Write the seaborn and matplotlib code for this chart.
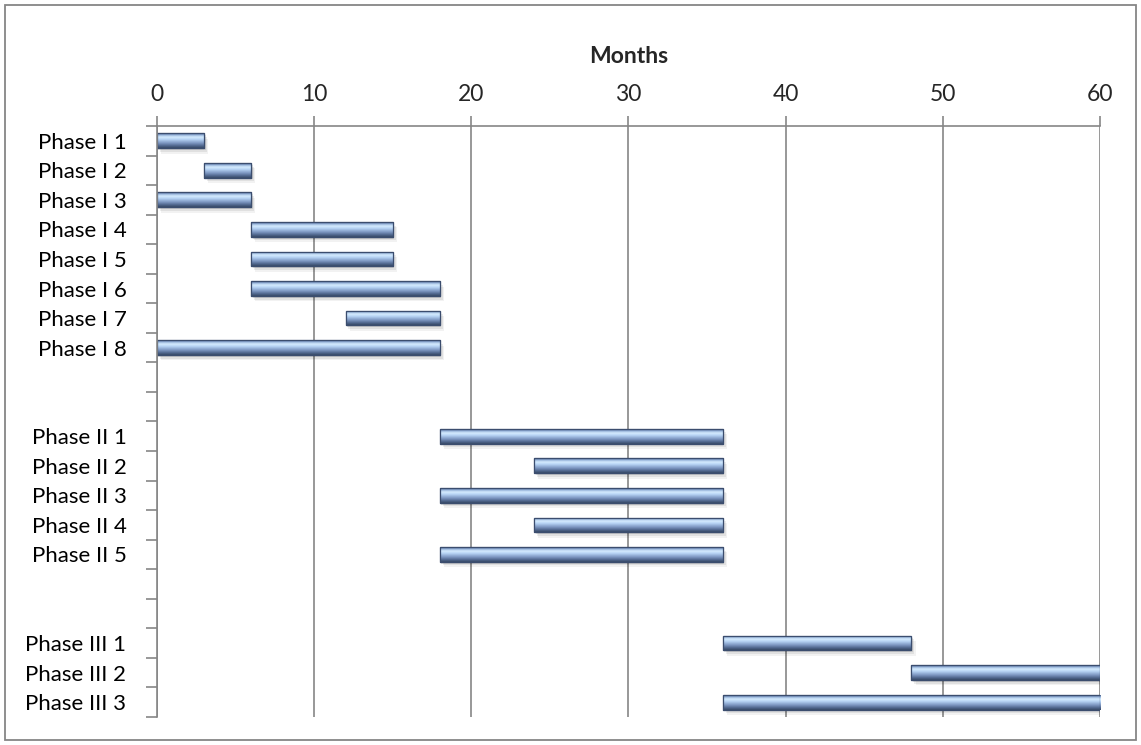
import numpy as np
import pandas as pd
import seaborn as sns
import matplotlib
matplotlib.use("Agg")
import matplotlib.pyplot as plt
from matplotlib.colors import LinearSegmentedColormap
from matplotlib.patches import Rectangle
import matplotlib.transforms as mtransforms

tasks = ["Phase I 1", "Phase I 2", "Phase I 3", "Phase I 4", "Phase I 5", "Phase I 6",
         "Phase I 7", "Phase I 8", " ", "  ",
         "Phase II 1", "Phase II 2", "Phase II 3", "Phase II 4", "Phase II 5", "   ", "    ",
         "Phase III 1", "Phase III 2", "Phase III 3"]
start = [0, 3, 0, 6, 6, 6, 12, 0, np.nan, np.nan,
         18, 24, 18, 24, 18, np.nan, np.nan,
         36, 48, 36]
end = [3, 6, 6, 15, 15, 18, 18, 18, np.nan, np.nan,
       36, 36, 36, 36, 36, np.nan, np.nan,
       48, 60, 60]
xticks = [0, 10, 20, 30, 40, 50, 60]
xlabel = "Months"

df = pd.DataFrame({"task": tasks, "start": start, "end": end})
df["duration"] = df["end"] - df["start"]
bars = df.dropna().reset_index(drop=True)

sns.set_theme(style="white")
plt.rcParams["font.family"] = ["Lato", "DejaVu Sans"]

fig = plt.figure(figsize=(11.41, 7.45), dpi=100)
ax = fig.add_axes([0.1376, 0.0376, 0.964 - 0.1376, 0.8309 - 0.0376])

sns.barplot(data=bars, x="duration", y="task", order=tasks, left=bars["start"].values,
            width=0.5, color="#5b75a0", ax=ax, errorbar=None, orient="y")

cmap = LinearSegmentedColormap.from_list(
    "cyl", [(0.0, "#41567c"), (0.1, "#8aa8d3"), (0.26, "#d8eeff"), (0.42, "#b6d3f5"),
            (0.68, "#7a94be"), (0.86, "#50668d"), (1.0, "#374a66")])
grad = np.linspace(0, 1, 64).reshape(-1, 1)
for p in list(ax.patches):
    w = p.get_width()
    if not np.isfinite(w) or w <= 0:
        p.set_visible(False)
        continue
    x0, y0 = p.get_x(), p.get_y()
    h = p.get_height()
    for k, a in [(1.0, 0.10), (2.0, 0.07), (3.0, 0.05)]:
        sh = Rectangle((x0, y0), w, h, facecolor="#000000", alpha=a, edgecolor="none",
                       transform=ax.transData + mtransforms.ScaledTranslation(k * 1.0 / 72, -k * 1.3 / 72,
                                                                              fig.dpi_scale_trans),
                       zorder=1.5)
        ax.add_patch(sh)
    p.set_edgecolor("#3b4d6e")
    p.set_linewidth(0.8)
    p.set_zorder(2)
    im = ax.imshow(grad, cmap=cmap, aspect="auto", extent=(x0, x0 + w, y0 + h, y0),
                   zorder=2.1, interpolation="bicubic")
    im.set_clip_path(p)
    edge = Rectangle((x0, y0), w, h, facecolor="none", edgecolor="#3b4d6e", linewidth=0.9, zorder=2.2)
    ax.add_patch(edge)

ax.set_xlim(0, 60)
ax.set_ylim(len(tasks) - 0.5, -0.5)

ax.xaxis.tick_top()
ax.xaxis.set_label_position("top")
ax.set_xticks(xticks)
ax.set_xticklabels([str(t) for t in xticks], fontsize=16.5)
ax.set_xlabel(xlabel, fontsize=16.5, fontweight="bold", labelpad=15)
ax.set_ylabel("")
ax.set_yticks(range(len(tasks)))
ax.set_yticklabels(tasks, fontsize=16)
ax.set_yticks(np.arange(-0.5, len(tasks) + 0.5, 1), minor=True)
ax.tick_params(axis="y", which="major", length=0, pad=22, colors="black")
ax.tick_params(axis="y", which="minor", length=8, width=1.2, color="#868686", direction="out", left=True)
ax.tick_params(axis="x", which="major", length=7, width=1.2, color="#868686", direction="out", top=True,
               bottom=False, pad=8)
ax.grid(axis="x", color="#868686", linewidth=1.2)
ax.grid(axis="y", visible=False)
ax.set_axisbelow(True)
for s in ["right", "bottom"]:
    ax.spines[s].set_visible(False)
for s in ["left", "top"]:
    ax.spines[s].set_color("#868686")
    ax.spines[s].set_linewidth(1.2)

fig.patches.append(Rectangle((5 / 1141, 5 / 745), 1 - 10 / 1141, 1 - 10 / 745, transform=fig.transFigure,
                             fill=False, edgecolor="#868686", linewidth=1.3))

fig.savefig("out.png", dpi=100)
